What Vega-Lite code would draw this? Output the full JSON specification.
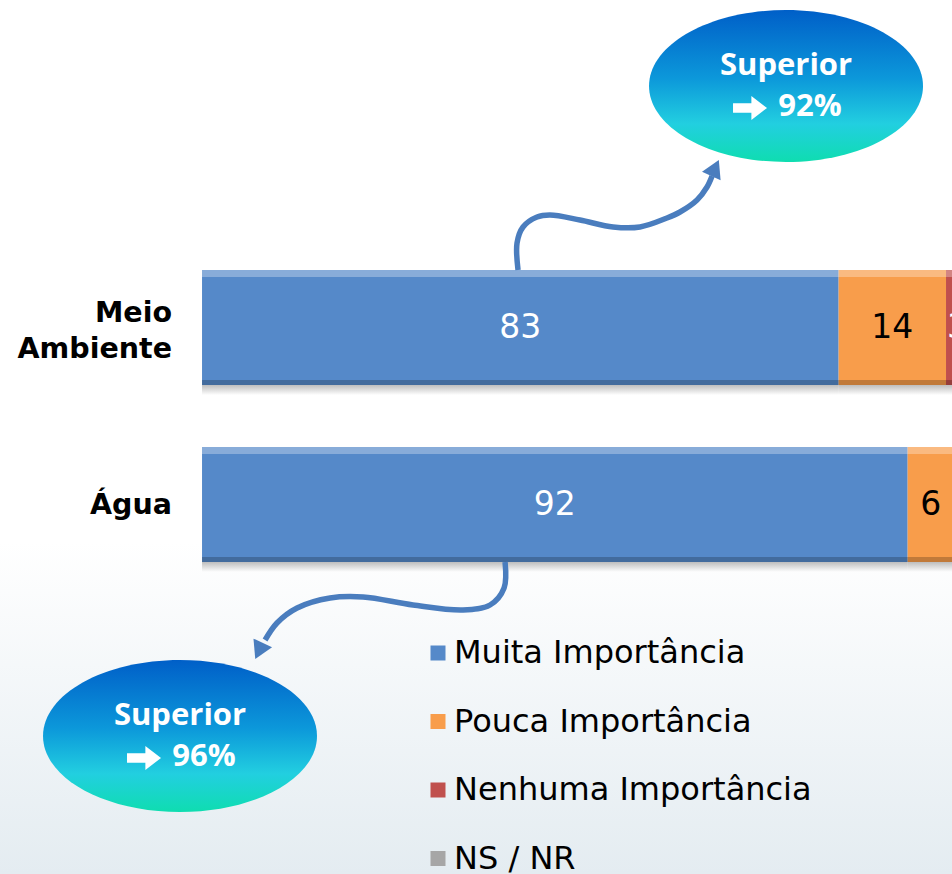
{
  "$schema": "https://vega.github.io/schema/vega-lite/v6.json",
  "width": 952,
  "height": 874,
  "autosize": "none",
  "padding": 0,
  "background": "white",
  "config": {
    "view": {
      "stroke": null,
      "fill": {"gradient": "linear", "x1": 0, "y1": 0, "x2": 0, "y2": 1, "stops": [{"offset": 0, "color": "#ffffff"}, {"offset": 0.62, "color": "#ffffff"}, {"offset": 1, "color": "#e4ecf1"}]}
    }
  },
  "datasets": {
    "bars": [
      {"cat": "Meio Ambiente", "seg": "Muita Importância", "v": 83},
      {"cat": "Meio Ambiente", "seg": "Pouca Importância", "v": 14},
      {"cat": "Meio Ambiente", "seg": "Nenhuma Importância", "v": 3},
      {"cat": "Meio Ambiente", "seg": "NS / NR", "v": 0},
      {"cat": "Água", "seg": "Muita Importância", "v": 92},
      {"cat": "Água", "seg": "Pouca Importância", "v": 6},
      {"cat": "Água", "seg": "Nenhuma Importância", "v": 2},
      {"cat": "Água", "seg": "NS / NR", "v": 0}
    ],
    "arrows": [
      {"a": 1, "i": 1, "x": 41.2, "y": 6.04},
      {"a": 1, "i": 2, "x": 41.07, "y": 6.31},
      {"a": 1, "i": 3, "x": 41.85, "y": 6.47},
      {"a": 1, "i": 4, "x": 43.68, "y": 6.57},
      {"a": 1, "i": 5, "x": 45.37, "y": 6.59},
      {"a": 1, "i": 6, "x": 49.28, "y": 6.54},
      {"a": 1, "i": 7, "x": 53.59, "y": 6.47},
      {"a": 1, "i": 8, "x": 57.1, "y": 6.47},
      {"a": 1, "i": 9, "x": 60.62, "y": 6.56},
      {"a": 1, "i": 10, "x": 62.32, "y": 6.62},
      {"a": 1, "i": 11, "x": 64.54, "y": 6.74},
      {"a": 1, "i": 12, "x": 65.84, "y": 6.87},
      {"a": 1, "i": 13, "x": 66.5, "y": 6.98},
      {"a": 2, "i": 1, "x": 39.51, "y": 3.12},
      {"a": 2, "i": 2, "x": 39.38, "y": 2.86},
      {"a": 2, "i": 3, "x": 37.55, "y": 2.69},
      {"a": 2, "i": 4, "x": 34.03, "y": 2.64},
      {"a": 2, "i": 5, "x": 27.51, "y": 2.69},
      {"a": 2, "i": 6, "x": 21.0, "y": 2.77},
      {"a": 2, "i": 7, "x": 16.69, "y": 2.76},
      {"a": 2, "i": 8, "x": 12.39, "y": 2.66},
      {"a": 2, "i": 9, "x": 9.77, "y": 2.51},
      {"a": 2, "i": 10, "x": 8.22, "y": 2.34}
    ],
    "heads": [
      {"x": 66.89, "y": 7.06, "ang": 25},
      {"x": 7.43, "y": 2.23, "ang": 205}
    ],
    "bubbles": [
      {"x": 76.14, "y": 7.88, "t1": "Superior", "t2": "92%"},
      {"x": -2.87, "y": 1.38, "t1": "Superior", "t2": "96%"}
    ]
  },
  "layer": [
    {
      "data": {"name": "bars"},
      "transform": [
        {"stack": "v", "groupby": ["cat"], "as": ["x0", "x1"]},
        {"calculate": "(datum.x0 + datum.x1) / 2", "as": "xm"}
      ],
      "encoding": {
        "y": {"field": "cat", "type": "nominal", "axis": null, "scale": {"domain": ["_a", "Meio Ambiente", "Água", "_b"], "paddingInner": 0.35, "paddingOuter": 0.644, "align": 0.408}}
      },
      "layer": [
        {
          "mark": {"type": "bar", "height": 10, "yOffset": 62.5, "clip": true, "opacity": 0.45, "fill": {"gradient": "linear", "x1": 0, "y1": 0, "x2": 0, "y2": 1, "stops": [{"offset": 0, "color": "#6f6f6f"}, {"offset": 1, "color": "#ffffff"}]}},
          "encoding": {
            "x": {"field": "x0", "type": "quantitative", "axis": null, "scale": {"domain": [-26.34, 97.78], "nice": false, "zero": false}},
            "x2": {"field": "x1"}
          }
        },
        {
          "mark": {"type": "bar", "clip": true, "strokeWidth": 0},
          "encoding": {
            "x": {"field": "x0", "type": "quantitative", "axis": null, "scale": {"domain": [-26.34, 97.78], "nice": false, "zero": false}},
            "x2": {"field": "x1"},
            "color": {
              "field": "seg", "type": "nominal",
              "scale": {"domain": ["Muita Importância", "Pouca Importância", "Nenhuma Importância", "NS / NR"], "range": ["#5589C9", "#F89D4B", "#C0504D", "#A6A6A6"]},
              "legend": {"orient": "none", "legendX": 422, "legendY": 637, "direction": "vertical", "symbolType": "square", "symbolSize": 225, "symbolStrokeWidth": 0, "symbolOpacity": 1, "labelFont": "DejaVu Sans", "labelFontSize": 32, "labelColor": "black", "labelOffset": 0, "rowPadding": 36.5, "padding": 0, "title": null, "labelLimit": 0}
            }
          }
        },
        {
          "mark": {"type": "bar", "height": 7, "yOffset": -54, "clip": true, "color": "white", "opacity": 0.3},
          "encoding": {
            "x": {"field": "x0", "type": "quantitative", "axis": null, "scale": {"domain": [-26.34, 97.78], "nice": false, "zero": false}},
            "x2": {"field": "x1"}
          }
        },
        {
          "mark": {"type": "bar", "height": 5, "yOffset": 55, "clip": true, "color": "black", "opacity": 0.22},
          "encoding": {
            "x": {"field": "x0", "type": "quantitative", "axis": null, "scale": {"domain": [-26.34, 97.78], "nice": false, "zero": false}},
            "x2": {"field": "x1"}
          }
        },
        {
          "transform": [{"filter": "datum.v > 0"}],
          "mark": {"type": "text", "font": "DejaVu Sans", "fontSize": 33, "align": "center", "baseline": "middle", "clip": true},
          "encoding": {
            "x": {"field": "xm", "type": "quantitative", "axis": null, "scale": {"domain": [-26.34, 97.78], "nice": false, "zero": false}},
            "text": {"field": "v", "type": "quantitative"},
            "color": {"condition": {"test": "datum.seg === 'Pouca Importância' || datum.seg === 'NS / NR'", "value": "black"}, "value": "white"}
          }
        },
        {
          "transform": [{"filter": "datum.seg === 'Muita Importância' && datum.cat === 'Meio Ambiente'"}],
          "mark": {"type": "text", "font": "DejaVu Sans", "fontWeight": "bold", "fontSize": 28.5, "align": "right", "baseline": "middle", "lineBreak": " ", "lineHeight": 36, "dy": -15, "color": "black"},
          "encoding": {
            "x": {"datum": -3.91, "type": "quantitative", "axis": null, "scale": {"domain": [-26.34, 97.78], "nice": false, "zero": false}},
            "text": {"field": "cat", "type": "nominal"}
          }
        },
        {
          "transform": [{"filter": "datum.seg === 'Muita Importância' && datum.cat === 'Água'"}],
          "mark": {"type": "text", "font": "DejaVu Sans", "fontWeight": "bold", "fontSize": 28.5, "align": "right", "baseline": "middle", "color": "black"},
          "encoding": {
            "x": {"datum": -3.91, "type": "quantitative", "axis": null, "scale": {"domain": [-26.34, 97.78], "nice": false, "zero": false}},
            "text": {"field": "cat", "type": "nominal"}
          }
        }
      ]
    },
    {
      "layer": [
        {
          "data": {"name": "arrows"},
          "mark": {"type": "line", "interpolate": "catmull-rom", "strokeWidth": 5.5, "color": "#4A7DBE", "strokeCap": "butt"},
          "encoding": {
            "x": {"field": "x", "type": "quantitative", "axis": null, "scale": {"domain": [-26.34, 97.78], "nice": false, "zero": false}},
            "y": {"field": "y", "type": "quantitative", "axis": null, "scale": {"domain": [0, 8.74], "nice": false, "zero": false}},
            "detail": {"field": "a", "type": "nominal"},
            "order": {"field": "i", "type": "quantitative"}
          }
        },
        {
          "data": {"name": "heads"},
          "mark": {"type": "point", "shape": "triangle-up", "filled": true, "size": 420, "color": "#4A7DBE", "opacity": 1, "strokeWidth": 0},
          "encoding": {
            "x": {"field": "x", "type": "quantitative", "axis": null, "scale": {"domain": [-26.34, 97.78], "nice": false, "zero": false}},
            "y": {"field": "y", "type": "quantitative", "axis": null, "scale": {"domain": [0, 8.74], "nice": false, "zero": false}},
            "angle": {"field": "ang", "type": "quantitative", "scale": null}
          }
        },
        {
          "data": {"name": "bubbles"},
          "mark": {"type": "point", "shape": "M-1,0A1,0.555,0,1,0,1,0A1,0.555,0,1,0,-1,0Z", "filled": true, "size": 75076, "opacity": 1, "strokeWidth": 0,
            "fill": {"gradient": "linear", "x1": 0, "y1": 0, "x2": 0, "y2": 1, "stops": [{"offset": 0, "color": "#005FC8"}, {"offset": 0.45, "color": "#0C98DA"}, {"offset": 0.75, "color": "#22CFE0"}, {"offset": 1, "color": "#0FDDB0"}]}},
          "encoding": {
            "x": {"field": "x", "type": "quantitative", "axis": null, "scale": {"domain": [-26.34, 97.78], "nice": false, "zero": false}},
            "y": {"field": "y", "type": "quantitative", "axis": null, "scale": {"domain": [0, 8.74], "nice": false, "zero": false}}
          }
        },
        {
          "data": {"name": "bubbles"},
          "mark": {"type": "text", "font": "Open Sans", "fontWeight": "bold", "fontSize": 31, "color": "white", "align": "center", "baseline": "middle", "dy": -20},
          "encoding": {
            "x": {"field": "x", "type": "quantitative", "axis": null, "scale": {"domain": [-26.34, 97.78], "nice": false, "zero": false}},
            "y": {"field": "y", "type": "quantitative", "axis": null, "scale": {"domain": [0, 8.74], "nice": false, "zero": false}},
            "text": {"field": "t1", "type": "nominal"}
          }
        },
        {
          "data": {"name": "bubbles"},
          "mark": {"type": "text", "font": "Open Sans", "fontWeight": "bold", "fontSize": 31, "color": "white", "align": "center", "baseline": "middle", "dy": 21, "dx": 24},
          "encoding": {
            "x": {"field": "x", "type": "quantitative", "axis": null, "scale": {"domain": [-26.34, 97.78], "nice": false, "zero": false}},
            "y": {"field": "y", "type": "quantitative", "axis": null, "scale": {"domain": [0, 8.74], "nice": false, "zero": false}},
            "text": {"field": "t2", "type": "nominal"}
          }
        },
        {
          "data": {"name": "bubbles"},
          "mark": {"type": "point", "shape": "M-1,-0.28L0.08,-0.28L0.08,-0.7L1,0L0.08,0.7L0.08,0.28L-1,0.28Z", "filled": true, "size": 1156, "color": "white", "opacity": 1, "strokeWidth": 0, "xOffset": -36, "yOffset": 22},
          "encoding": {
            "x": {"field": "x", "type": "quantitative", "axis": null, "scale": {"domain": [-26.34, 97.78], "nice": false, "zero": false}},
            "y": {"field": "y", "type": "quantitative", "axis": null, "scale": {"domain": [0, 8.74], "nice": false, "zero": false}}
          }
        }
      ]
    }
  ],
  "resolve": {"scale": {"y": "independent"}}
}
